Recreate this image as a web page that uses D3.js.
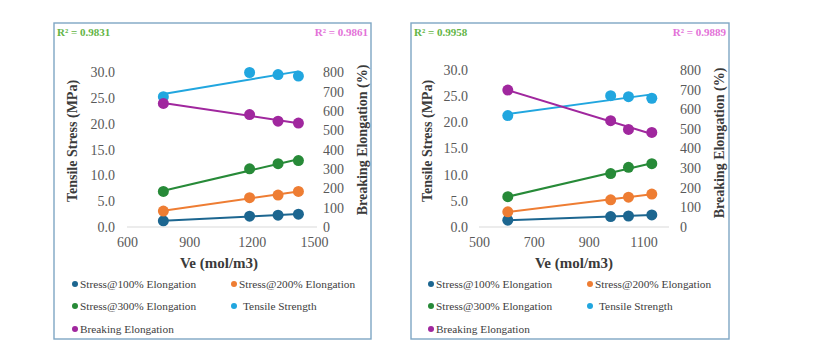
<!DOCTYPE html>
<html>
<head>
<meta charset="utf-8">
<script src="https://cdn.jsdelivr.net/npm/d3@7"></script>
<style>
  body { margin: 0; background: #fff; }
  svg { display: block; }
  svg text { font-family: "Liberation Serif", "Times New Roman", Times, serif !important; }
</style>
</head>
<body>
<svg id="chart" width="823" height="344"></svg>
<script>
// series names, shared by both panels
const seriesNames = ['Stress@100% Elongation', 'Stress@200% Elongation', 'Stress@300% Elongation', 'Tensile Strength', 'Breaking Elongation'];

// panel A
const veA = [775, 1190, 1327, 1425];
const s100A = [1.2, 2.1, 2.3, 2.5];
const s200A = [3.1, 5.7, 6.2, 6.9];
const s300A = [6.9, 11.3, 12.3, 12.9];
const tensileA = [25.3, 30.0, 29.6, 29.3];
const elongA = [640, 582, 548, 538];
const r2A = ['R² = 0.9831', 'R² = 0.9861'];
const xTicksA = [600, 900, 1200, 1500];

// panel B
const veB = [605, 980, 1045, 1130];
const s100B = [1.3, 2.0, 2.1, 2.3];
const s200B = [2.9, 5.2, 5.7, 6.3];
const s300B = [5.8, 10.2, 11.4, 12.1];
const tensileB = [21.3, 25.1, 24.9, 24.6];
const elongB = [698, 542, 497, 482];
const r2B = ['R² = 0.9958', 'R² = 0.9889'];
const xTicksB = [500, 700, 900, 1100];

const stressTicks = [0, 5, 10, 15, 20, 25, 30];
const elongTicks = [0, 100, 200, 300, 400, 500, 600, 700, 800];

const colors = ['#1c6690', '#ee7d33', '#278a38', '#21a6df', '#a0279e'];
const textGray = '#595959';
const serif = '"Liberation Serif", "Times New Roman", Times, serif';

const svg = d3.select('#chart');

// least squares line through a series
function fitLine(xs, ys) {
  const mx = d3.mean(xs), my = d3.mean(ys);
  let sxy = 0, sxx = 0;
  xs.forEach((x, i) => { sxy += (x - mx) * (ys[i] - my); sxx += (x - mx) * (x - mx); });
  const b = sxy / sxx;
  return x => my + b * (x - mx);
}

function styleTicks(axisG) {
  axisG.attr('font-family', serif);
  axisG.selectAll('text').attr('font-size', 14).attr('fill', textGray);
}

function drawPanel(p) {
  const g = svg.append('g').attr('font-family', serif);
  // frame
  g.append('rect')
    .attr('x', p.box[0]).attr('y', p.box[1])
    .attr('width', p.box[2]).attr('height', p.box[3])
    .attr('fill', 'none').attr('stroke', '#7ea6c4').attr('stroke-width', 1.4);

  const x = d3.scaleLinear().domain(p.xDomain).range([p.left, p.right]);
  const yL = d3.scaleLinear().domain([0, 30]).range([p.bottom, p.top]);
  const yR = d3.scaleLinear().domain([0, 800]).range([p.bottom, p.top]);

  // x axis, baseline runs a little past the last tick
  const xa = g.append('g')
    .attr('transform', `translate(0,${p.bottom})`)
    .call(d3.axisBottom(x).tickValues(p.xTicks).tickFormat(d3.format('d')).tickSize(0).tickSizeOuter(0).tickPadding(10));
  xa.select('.domain').remove();
  xa.insert('line', ':first-child')
    .attr('x1', p.left).attr('x2', p.axisEnd)
    .attr('stroke', '#d9d9d9').attr('stroke-width', 1.2);
  styleTicks(xa);

  // left axis
  const la = g.append('g')
    .attr('transform', `translate(${p.left},0)`)
    .call(d3.axisLeft(yL).tickValues(stressTicks).tickFormat(d3.format('.1f')).tickSize(0).tickPadding(p.padL));
  la.select('.domain').remove();
  styleTicks(la);

  // right axis
  const ra = g.append('g')
    .attr('transform', `translate(${p.right},0)`)
    .call(d3.axisRight(yR).tickValues(elongTicks).tickFormat(d3.format('d')).tickSize(0).tickPadding(p.padR));
  ra.select('.domain').remove();
  styleTicks(ra);

  // axis titles
  g.append('text')
    .attr('x', p.xTitle[0]).attr('y', p.xTitle[1])
    .attr('text-anchor', 'middle').attr('font-size', 15).attr('font-weight', 'bold').attr('fill', '#3a3a3a')
    .text('Ve (mol/m3)');
  g.append('text')
    .attr('transform', `translate(${p.yTitleL[0]},${p.yTitleL[1]}) rotate(-90)`)
    .attr('text-anchor', 'middle').attr('dominant-baseline', 'central')
    .attr('font-size', 14).attr('font-weight', 'bold').attr('fill', '#3a3a3a')
    .text('Tensile Stress (MPa)');
  g.append('text')
    .attr('transform', `translate(${p.yTitleR[0]},${p.yTitleR[1]}) rotate(-90)`)
    .attr('text-anchor', 'middle').attr('dominant-baseline', 'central')
    .attr('font-size', 14).attr('font-weight', 'bold').attr('fill', '#3a3a3a')
    .text('Breaking Elongation (%)');

  // R² labels
  g.append('text')
    .attr('x', p.box[0] + 3).attr('y', 36)
    .attr('font-size', 11).attr('font-weight', 'bold').attr('fill', '#63b545')
    .text(p.r2[0]);
  g.append('text')
    .attr('x', p.box[0] + p.box[2] - 3).attr('y', 36).attr('text-anchor', 'end')
    .attr('font-size', 11).attr('font-weight', 'bold').attr('fill', '#e372d8')
    .text(p.r2[1]);

  // series: trend line then markers
  const series = [
    { vals: p.s100, y: yL },
    { vals: p.s200, y: yL },
    { vals: p.s300, y: yL },
    { vals: p.tensile, y: yL },
    { vals: p.elong, y: yR }
  ];
  const xMin = d3.min(p.ve), xMax = d3.max(p.ve);
  series.forEach((s, i) => {
    const f = fitLine(p.ve, s.vals);
    g.append('line')
      .attr('x1', x(xMin)).attr('y1', s.y(f(xMin)))
      .attr('x2', x(xMax)).attr('y2', s.y(f(xMax)))
      .attr('stroke', colors[i]).attr('stroke-width', 2);
    g.selectAll(null)
      .data(s.vals)
      .enter()
      .append('circle')
      .attr('cx', (d, j) => x(p.ve[j]))
      .attr('cy', d => s.y(d))
      .attr('r', 5.5)
      .attr('fill', colors[i]);
  });

  // legend
  const lg = g.append('g');
  seriesNames.forEach((name, i) => {
    const col = i % 2, row = Math.floor(i / 2);
    const dx = p.legX[col], dy = p.legY[row];
    lg.append('circle').attr('cx', dx).attr('cy', dy).attr('r', 3).attr('fill', colors[i]);
    lg.append('text')
      .attr('x', dx + (i === 3 ? 9 : 5)).attr('y', dy)
      .attr('dominant-baseline', 'central')
      .attr('font-size', 11.3).attr('fill', '#404040')
      .text(name);
  });
}

drawPanel({
  box: [54, 23, 317, 316],
  xDomain: [600, 1500], xTicks: xTicksA,
  left: 127, right: 314, axisEnd: 317, top: 72.5, bottom: 227,
  padL: 12, padR: 9,
  xTitle: [219, 268], yTitleL: [72, 141], yTitleR: [362, 140],
  r2: r2A,
  ve: veA, s100: s100A, s200: s200A, s300: s300A, tensile: tensileA, elong: elongA,
  legX: [75, 234], legY: [284, 306, 329]
});

drawPanel({
  box: [411, 23, 318, 316],
  xDomain: [500, 1200], xTicks: xTicksB,
  left: 479, right: 671, axisEnd: 669, top: 70, bottom: 227,
  padL: 11, padR: 9,
  xTitle: [574, 268], yTitleL: [427, 141], yTitleR: [719, 143],
  r2: r2B,
  ve: veB, s100: s100B, s200: s200B, s300: s300B, tensile: tensileB, elong: elongB,
  legX: [431, 590], legY: [284, 306, 329]
});
</script>
</body>
</html>
